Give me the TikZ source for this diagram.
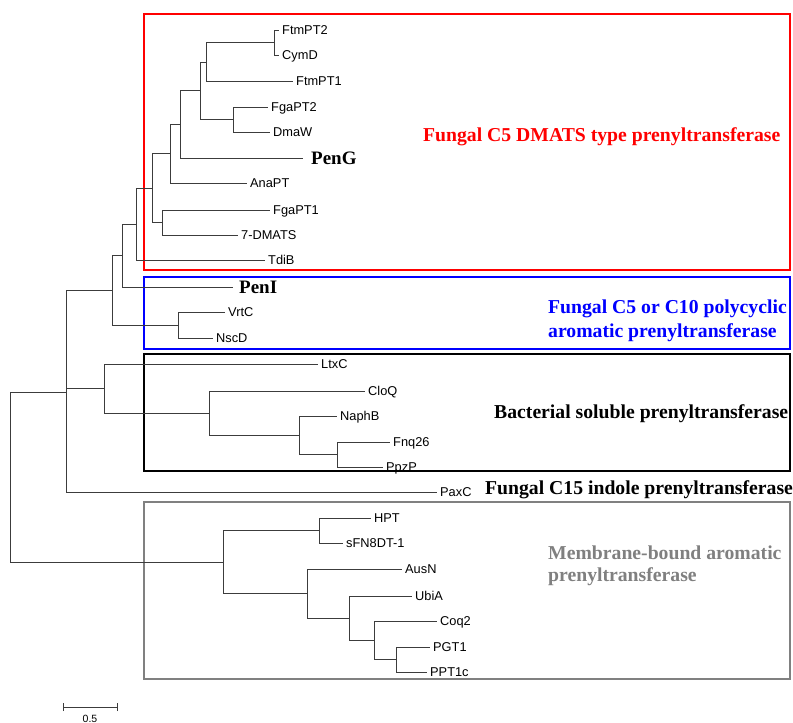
\documentclass[tikz,border=0pt]{standalone}
\usepackage{fontspec}
\setmainfont{Liberation Serif}
\setsansfont{Liberation Sans}
\definecolor{treeline}{RGB}{60,60,60}
\definecolor{boxred}{RGB}{255,0,0}
\definecolor{boxblue}{RGB}{0,0,255}
\definecolor{boxgray}{RGB}{128,128,128}
\definecolor{labgray}{RGB}{128,128,128}
\tikzset{
  leaf/.style={anchor=west, inner xsep=3pt, inner ysep=0pt,
    font=\sffamily\fontsize{12.8}{14}\selectfont, text height=9.2pt, text depth=0pt},
  keyleaf/.style={anchor=west, inner xsep=8pt, inner ysep=0pt,
    font=\rmfamily\bfseries\fontsize{19}{22}\selectfont, text height=12.6pt, text depth=0pt},
  branch/.style={draw=treeline, line width=1pt},
  grouplabel/.style={anchor=west, inner sep=0pt,
    font=\rmfamily\bfseries\fontsize{19.7}{23}\selectfont, text height=13pt, text depth=0pt},
  groupbox/.style={line width=2.5pt},
}
\begin{document}
\begin{tikzpicture}[x=1pt,y=-1pt]
\useasboundingbox (0,0) rectangle (793,723);
% group boxes
\draw[groupbox, draw=boxred] (144,14) rectangle (790,270);
\draw[groupbox, draw=boxblue] (144,277) rectangle (790,349);
\draw[groupbox, draw=black] (144,354) rectangle (790,471);
\draw[groupbox, draw=boxgray] (144,502) rectangle (790,679);
% leaves
\node[leaf] (FtmPT2) at (279,30) {FtmPT2};
\node[leaf] (CymD) at (279,55) {CymD};
\node[leaf] (FtmPT1) at (293,81) {FtmPT1};
\node[leaf] (FgaPT2) at (268,107) {FgaPT2};
\node[leaf] (DmaW) at (270,132) {DmaW};
\node[keyleaf] (PenG) at (303,158) {PenG};
\node[leaf] (AnaPT) at (247,183) {AnaPT};
\node[leaf] (FgaPT1) at (270,210) {FgaPT1};
\node[leaf] (DMATS) at (238,235) {7-DMATS};
\node[leaf] (TdiB) at (265,260) {TdiB};
\node[keyleaf, inner xsep=6pt] (PenI) at (233,287) {PenI};
\node[leaf] (VrtC) at (225,312) {VrtC};
\node[leaf] (NscD) at (213,338) {NscD};
\node[leaf] (LtxC) at (318,364) {LtxC};
\node[leaf] (CloQ) at (365,391) {CloQ};
\node[leaf] (NaphB) at (337,416) {NaphB};
\node[leaf] (Fnq) at (390,442) {Fnq26};
\node[leaf] (PpzP) at (383,467) {PpzP};
\node[leaf] (PaxC) at (437,492) {PaxC};
\node[leaf] (HPT) at (371,518) {HPT};
\node[leaf] (sFN) at (343,543) {sFN8DT-1};
\node[leaf] (AusN) at (402,569) {AusN};
\node[leaf] (UbiA) at (412,596) {UbiA};
\node[leaf] (Coq) at (437,621) {Coq2};
\node[leaf] (PGT) at (430,647) {PGT1};
\node[leaf] (PPT) at (427,672) {PPT1c};
% internal nodes
\coordinate (n1) at (274,42.5);
\coordinate (n2) at (206,62);
\coordinate (n3) at (233,119.5);
\coordinate (n4) at (200,90.75);
\coordinate (n5) at (180,124.4);
\coordinate (n6) at (170,153.7);
\coordinate (n7) at (162,222.5);
\coordinate (n8) at (152,188);
\coordinate (n9) at (136,224);
\coordinate (n10) at (122,255.5);
\coordinate (n11) at (178,325);
\coordinate (n12) at (112,290);
\coordinate (n13) at (337,454.5);
\coordinate (n14) at (299,435);
\coordinate (n15) at (209,413);
\coordinate (n16) at (104,388.5);
\coordinate (n17) at (66,392);
\coordinate (n18) at (319,530.5);
\coordinate (n19) at (396,659.5);
\coordinate (n20) at (374,640);
\coordinate (n21) at (349,618);
\coordinate (n22) at (307,593.5);
\coordinate (n23) at (223,562);
\coordinate (root) at (10,477);
% branches
\draw[branch] (n1) |- (FtmPT2.west) (n1) |- (CymD.west);
\draw[branch] (n2) |- (n1) (n2) |- (FtmPT1.west);
\draw[branch] (n3) |- (FgaPT2.west) (n3) |- (DmaW.west);
\draw[branch] (n4) |- (n2) (n4) |- (n3);
\draw[branch] (n5) |- (n4) (n5) |- (PenG.west);
\draw[branch] (n6) |- (n5) (n6) |- (AnaPT.west);
\draw[branch] (n7) |- (FgaPT1.west) (n7) |- (DMATS.west);
\draw[branch] (n8) |- (n6) (n8) |- (n7);
\draw[branch] (n9) |- (n8) (n9) |- (TdiB.west);
\draw[branch] (n10) |- (n9) (n10) |- (PenI.west);
\draw[branch] (n11) |- (VrtC.west) (n11) |- (NscD.west);
\draw[branch] (n12) |- (n10) (n12) |- (n11);
\draw[branch] (n13) |- (Fnq.west) (n13) |- (PpzP.west);
\draw[branch] (n14) |- (NaphB.west) (n14) |- (n13);
\draw[branch] (n15) |- (CloQ.west) (n15) |- (n14);
\draw[branch] (n16) |- (LtxC.west) (n16) |- (n15);
\draw[branch] (n17) |- (n12) (n17) |- (n16) (n17) |- (PaxC.west);
\draw[branch] (n18) |- (HPT.west) (n18) |- (sFN.west);
\draw[branch] (n19) |- (PGT.west) (n19) |- (PPT.west);
\draw[branch] (n20) |- (Coq.west) (n20) |- (n19);
\draw[branch] (n21) |- (UbiA.west) (n21) |- (n20);
\draw[branch] (n22) |- (AusN.west) (n22) |- (n21);
\draw[branch] (n23) |- (n18) (n23) |- (n22);
\draw[branch] (root) |- (n17) (root) |- (n23);
% group labels
\node[grouplabel, text=boxred] (gDMATS) at (423,135) {Fungal C5 DMATS type prenyltransferase};
\node[grouplabel, text=boxblue] (gPolyA) at (548,307) {Fungal C5 or C10 polycyclic};
\node[grouplabel, text=boxblue] (gPolyB) at (548,330.5) {aromatic prenyltransferase};
\node[grouplabel] (gBact) at (494,412) {Bacterial soluble prenyltransferase};
\node[grouplabel] (gC15) at (485,488) {Fungal C15 indole prenyltransferase};
\node[grouplabel, text=labgray] (gMemA) at (548,553) {Membrane-bound aromatic};
\node[grouplabel, text=labgray] (gMemB) at (548,575) {prenyltransferase};
% scale bar
\coordinate (sbL) at (63,707);
\coordinate (sbR) at (117,707);
\draw[branch] (sbL) -- (sbR);
\draw[branch] ([yshift=-4pt]sbL) -- ([yshift=4pt]sbL);
\draw[branch] ([yshift=-4pt]sbR) -- ([yshift=4pt]sbR);
\node[font=\sffamily\fontsize{10.5}{12}\selectfont, anchor=south, inner sep=0pt] (sbLab) at (90,722.5) {0.5};
\end{tikzpicture}
\end{document}
